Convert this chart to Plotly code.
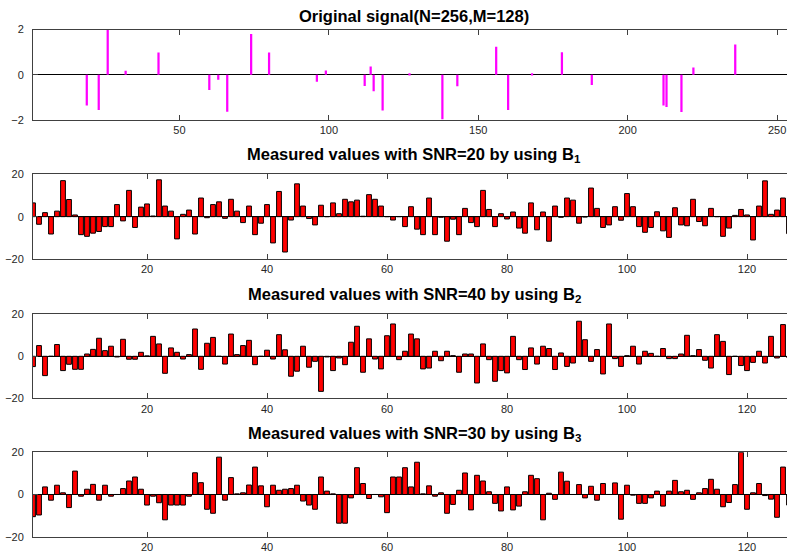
import plotly.graph_objects as go

# ---------------- data ----------------
sig_idx = [19, 23, 26, 32, 43, 60, 63, 66, 74, 80, 96, 99, 112, 114, 115, 118, 127,
           138, 143, 156, 160, 168, 178, 188, 212, 213, 218, 222, 236]
sig_val = [-1.36, -1.56, 2.0, 0.18, 0.98, -0.67, -0.22, -1.63, 1.80, 0.98, -0.31, 0.19,
           -0.50, 0.36, -0.73, -1.58, 0.07, -1.97, -0.51, 1.24, -1.56, 0.07, 0.99, -0.45,
           -1.36, -1.43, -1.65, 0.32, 1.34]

meas_idx = list(range(1, 129))

snr20_b1 = [6.5, -3.6, 1.9, -8.2, 2.6, 17, 8.1, 0.8, -8.5, -9.3,
            -7.8, -7.0, -4.7, -4.7, 5.7, -2.0, 12.4, -5.1, 4.5, 6.0,
            0.3, 17.4, 5.0, 2.6, -10.5, 1.1, 3.1, -8.2, 8.8, -0.5,
            5.7, 7.0, -0.8, 8.2, 2.6, -2.8, 5.0, -8.5, -3.1, 5.7,
            -12.4, 11.9, -16.7, -1.6, 15.5, 5.0, -0.9, -3.9, 5.4, 0,
            6.5, 1.4, 8.2, 7.0, 7.8, 0.2, 10.4, 8.2, 5.0, 0,
            -1.6, 0, -4.7, 4.7, -5.9, -8.5, 8.8, -8.5, -0.3, -11.6,
            -1.2, -8.5, 3.9, -2.8, -4.7, 12.4, 3.4, -4.7, 1.4, -1.1,
            2.2, -5.4, -7.8, 6.5, -6.2, 2.2, -11.6, 5.0, -0.3, 8.8,
            7.8, -3.1, -0.2, 13.5, 3.9, -5.1, -3.9, 4.7, -1.7, 10.9,
            4.7, -4.7, -7.4, -5.1, 2.3, -6.7, -9.8, 4.2, -3.9, -4.3,
            8.2, -2.3, -4.3, 3.9, 0, -9.3, -5.4, 0.6, 3.4, 0.8,
            -11.0, 5.0, 16.9, 1.1, 3.1, 8.8, -8.0, 2.0]

snr40_b2 = [-4.9, 5.1, -9.2, 0, 5.6, -6.8, -3.8, -6.2, -6.2, 1.1,
            3.3, 8.6, 2.7, 4.8, -0.3, 8.1, -1.4, -1.4, 1.9, 0.2,
            9.5, 5.9, -8.1, 4.0, 1.9, -1.3, 0.8, 13.0, -6.2, 6.2,
            9.0, 0, -3.7, 10.6, 0.8, 5.1, 7.6, -4.0, 0, 2.9,
            -1.3, 10.3, 3.1, -9.5, -7.1, 4.8, -5.2, -2.4, -16.7, -0.3,
            -6.8, -0.8, -4.0, 6.7, 14.3, -7.6, 8.3, -1.3, -6.0, 9.8,
            15.4, -1.6, 2.4, 10.6, 8.3, -6.0, -5.6, 2.4, -2.1, 2.4,
            0.3, -7.6, 1.1, 1.1, -12.7, 5.9, -1.6, -11.9, -6.8, -7.9,
            9.5, -1.6, -6.3, 4.0, -3.7, 4.8, 3.7, -6.3, 1.6, -4.8,
            -3.2, 16.7, 7.9, -2.4, 3.2, -8.4, 15.4, -1.1, -4.8, 0.3,
            4.8, -3.7, 2.4, 1.4, 0, 3.7, -1.1, -1.1, 1.1, 10.0,
            0.3, 3.2, -1.9, -5.6, 10.3, 7.1, -8.7, 0, -4.4, -6.8,
            -2.9, 2.4, -3.2, 9.5, -0.8, 15.1, -0.5, 1.0]

snr30_b3 = [-10.5, -9.7, 3.6, -2.7, 4.4, 0.8, -6.2, 11.1, -0.8, 2.5,
            4.8, -2.7, 4.4, -0.8, 0, 2.8, 6.4, 8.3, 2.5, -5.0,
            -0.8, -3.9, -12.0, -5.0, -5.0, -5.0, -0.8, 10.3, 5.6, -7.0,
            -8.9, 17.7, -2.7, 8.0, 0.3, 0.8, 4.5, 13.0, 4.1, -5.8,
            4.4, 2.0, 2.5, 2.8, 4.4, -3.1, -5.0, -7.0, 8.3, 1.6,
            0.3, -13.6, -13.6, -1.6, 12.7, 5.2, -1.9, 0, -1.1, -8.6,
            8.3, 8.3, 12.7, 3.6, 15.3, 0.3, 4.1, -0.8, 0.8, -8.9,
            -4.7, 2.0, 10.2, -7.3, 9.1, 6.4, 1.3, -4.2, -7.8, 3.6,
            -7.3, -5.5, 1.3, 9.1, 7.5, -12.0, 0.6, -2.3, 10.6, 6.3,
            0, 4.7, -1.6, 3.9, -2.7, 5.2, 0, 5.5, -11.7, 4.4,
            -0.3, -4.2, -4.2, -1.6, 1.6, -5.5, 1.6, 6.7, 1.3, 2.0,
            -2.3, 0.8, 2.8, 7.2, 2.5, -5.8, -3.8, 4.7, 20.0, -7.0,
            0.8, 5.2, -0.5, -2.2, -10.8, 13.0, -5.0, 1.0]

titles = ["Original signal(N=256,M=128)",
          "Measured values with SNR=20 by using B<sub>1</sub>",
          "Measured values with SNR=40 by using B<sub>2</sub>",
          "Measured values with SNR=30 by using B<sub>3</sub>"]

sig_ticks = [50, 100, 150, 200, 250]
meas_ticks = [20, 40, 60, 80, 100, 120]

# ---------------- figure ----------------
# the original figure is slightly wider than the visible 787 px window (right side cropped)
W, H = 795, 552
L = 33
fig = go.Figure()

fig.add_trace(go.Bar(x=sig_idx, y=sig_val, width=0.75, marker=dict(color="#FF00FF", line=dict(width=0)),
                     xaxis="x", yaxis="y", showlegend=False))
for k, ys in enumerate([snr20_b1, snr40_b2, snr30_b3], start=2):
    fig.add_trace(go.Bar(x=meas_idx, y=ys, width=0.8,
                         marker=dict(color="#FF0000", line=dict(color="black", width=1)),
                         xaxis=f"x{k}", yaxis=f"y{k}", showlegend=False))

# pixel positions (top, bottom) of each axes box
boxes = [(29.5, 120.0), (174.3, 259.0), (314.3, 398.3), (452.3, 536.7)]
title_y = [16, 155, 295, 434]

axis_col = "#404040"
font_col = "#262626"
common_x = dict(ticks="inside", ticklen=5, tickcolor=axis_col, showline=True, linecolor=axis_col,
                linewidth=1, mirror="ticks", showgrid=False, zeroline=False, automargin=False,
                tickfont=dict(size=11, color=font_col, family="Liberation Sans, Arial"))
common_y = dict(ticks="inside", ticklen=5, tickcolor=axis_col, showline=True, linecolor=axis_col,
                linewidth=1, mirror="ticks", showgrid=False, zeroline=True, zerolinecolor="black",
                zerolinewidth=1, ticklabelstandoff=6, automargin=False,
                tickfont=dict(size=11, color=font_col, family="Liberation Sans, Arial"))

layout = dict(width=W, height=H, margin=dict(l=L, r=0, t=0, b=0, autoexpand=False),
              plot_bgcolor="white", paper_bgcolor="white", barmode="overlay")

for i, (top, bot) in enumerate(boxes):
    sfx = "" if i == 0 else str(i + 1)
    dom = [1 - bot / H, 1 - top / H]
    if i == 0:
        xr, tv, yr, ytv = [1, 256], sig_ticks, [-2, 2], [-2, 0, 2]
    else:
        xr, tv, yr, ytv = [1, 128], meas_ticks, [-20, 20], [-20, 0, 20]
    layout["xaxis" + sfx] = dict(common_x, domain=[0, 1], range=xr, tickvals=tv,
                                 anchor="y" + sfx)
    layout["yaxis" + sfx] = dict(common_y, domain=dom, range=yr, tickvals=ytv,
                                 anchor="x" + sfx)

annotations = []
for t, ty in zip(titles, title_y):
    annotations.append(dict(text=f"<b>{t}</b>", x=0.5, y=1 - ty / H,
                            xref="paper", yref="paper", xanchor="center", yanchor="middle",
                            showarrow=False,
                            font=dict(size=16.5, color="black", family="Liberation Sans, Arial")))
layout["annotations"] = annotations

fig.update_layout(**layout)
fig.write_html("out.html", config={"displayModeBar": False},
               post_script="document.body.style.margin='0px';document.body.style.overflow='hidden';")
